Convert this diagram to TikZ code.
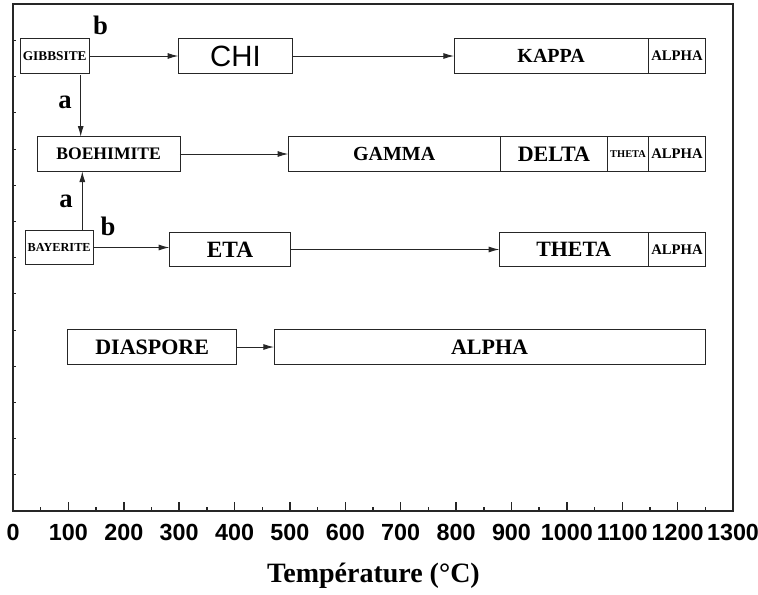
\documentclass[tikz,border=0pt]{standalone}
\usepackage{fontspec}
\setmainfont{Liberation Serif}
\setsansfont{Liberation Sans}
\usepackage{tikz}
\usetikzlibrary{arrows.meta}
\usetikzlibrary{positioning}
\newcommand{\pts}[1]{\fontsize{#1pt}{#1pt}\selectfont}
\tikzset{
    phasebox/.style={draw=black!85, line width=0.6pt, minimum height=26pt, inner sep=0pt, outer sep=0pt, font=\bfseries},
    phasearrow/.style={-{Latex[length=8pt,width=4.5pt]}, line width=0.7pt, draw=black!85},
    routelabel/.style={font=\bfseries\pts{20}},
    axisline/.style={line width=1.1pt, draw=black!85}
}

\begin{document}
\begin{tikzpicture}[x=0.75pt, y=-0.75pt]
    \useasboundingbox (0,0) rectangle (758,594);

    % axes
    \draw[axisline] (13,4) rectangle (733,511);
    \foreach \t [evaluate=\t as \lbl using int(100*\t)] in {0,...,13} {
        \draw[axisline] ({13+55.385*\t},511) -- ++(0,-9);
        \node[anchor=base, font=\sffamily\bfseries\pts{17.5}] (t\t) at ({13+55.385*\t},540) {\lbl};
    }
    \foreach \t in {0,...,12}
        \draw[axisline] ({13+55.385*(\t+0.5)},511) -- ++(0,-4);
    \foreach \k in {1,...,13}
        \draw[line width=0.6pt, black!85] (13,{511-36.2*\k}) -- ++(2.5,0);
    \node[anchor=base, font=\bfseries\pts{21}] (xlabel) at (373.5,582) {Température (°C)};

    % gibbsite route
    \node[phasebox, minimum width=52pt] (gibbsite) at (54.7,56) {\pts{10}GIBBSITE};
    \node[phasebox, minimum width=85.8pt, font=\sffamily] (chi) at (235.5,56) {\pts{22}CHI};
    \node[phasebox, minimum width=145.7pt] (kappa) at (551.15,56) {\pts{15}KAPPA};
    \node[phasebox, minimum width=43pt, right=0pt of kappa] (alpha1) {\pts{11}ALPHA};

    % boehmite route
    \node[phasebox, minimum width=107pt] (boehmite) at (108.65,154) {\pts{13.2}BOEHIMITE};
    \node[phasebox, minimum width=158.8pt] (gamma) at (394.15,154) {\pts{15}GAMMA};
    \node[phasebox, minimum width=80.8pt, right=0pt of gamma] (delta) {\pts{16.5}DELTA};
    \node[phasebox, minimum width=30.45pt, right=0pt of delta] (theta1) {\pts{7.8}THETA};
    \node[phasebox, minimum width=43pt, right=0pt of theta1] (alpha2) {\pts{11}ALPHA};

    % bayerite route
    \node[phasebox, minimum width=51.2pt] (bayerite) at (59.15,247.5) {\pts{9.2}BAYERITE};
    \node[phasebox, minimum width=91.05pt] (eta) at (230,249.5) {\pts{17.5}ETA};
    \node[phasebox, minimum width=111.75pt] (theta2) at (573.8,249.5) {\pts{16.4}THETA};
    \node[phasebox, minimum width=43pt, right=0pt of theta2] (alpha3) {\pts{11}ALPHA};

    % diaspore
    \node[phasebox, minimum width=126.75pt] (diaspore) at (152.2,347) {\pts{16.5}DIASPORE};
    \node[phasebox, minimum width=323.25pt] (alpha4) at (489.5,347) {\pts{16.5}ALPHA};

    \coordinate (gdown) at (80.7,75);
    \coordinate (bup) at (82.3,230);

    \draw[phasearrow] (gibbsite) -- (chi);
    \draw[phasearrow] (chi) -- (kappa);
    \draw[phasearrow] (gdown) -- (gdown |- boehmite.north);
    \draw[phasearrow] (boehmite) -- (gamma);
    \draw[phasearrow] (bup) -- (bup |- boehmite.south);
    \draw[phasearrow] (bayerite.east) -- (bayerite.east -| eta.west);
    \draw[phasearrow] (eta) -- (theta2);
    \draw[phasearrow] (diaspore) -- (alpha4);

    \node[routelabel] (b1) at (100.5,25) {b};
    \node[routelabel] (a1) at (65,102) {a};
    \node[routelabel] (a2) at (66,201.5) {a};
    \node[routelabel] (b2) at (108,226) {b};
\end{tikzpicture}
\end{document}
